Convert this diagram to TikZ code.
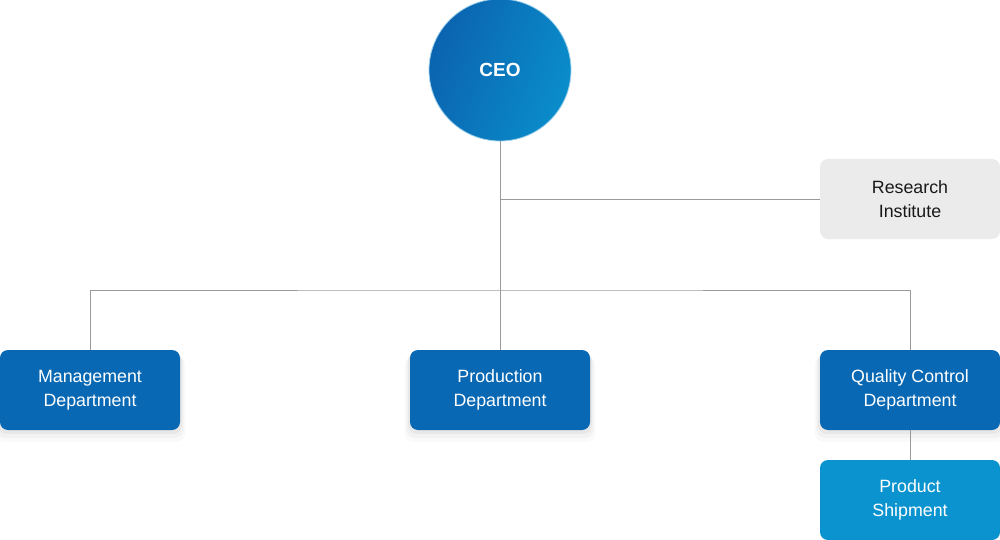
\documentclass[tikz,border=0pt]{standalone}
\usepackage{fontspec}
\setmainfont{Liberation Sans}
\usetikzlibrary{shadows,shadings}
\definecolor{deptblue}{HTML}{0868B3}
\definecolor{shipblue}{HTML}{0A93CE}
\definecolor{resgray}{HTML}{EBEBEB}
\definecolor{linegray}{HTML}{9A9A9A}
\definecolor{ceoA}{HTML}{0B63B0}
\definecolor{ceoB}{HTML}{0A8DCB}
\tikzset{
  x=1pt,y=-1pt,
  boxbase/.style={rounded corners=8pt,minimum width=180pt,minimum height=80pt,inner sep=0pt,align=center,
    font=\fontsize{17.8}{24}\selectfont},
  softshadow/.style={
    general shadow={shadow xshift=0pt,shadow yshift=-3pt,shadow scale=1.02,opacity=0.04,fill=black},
    general shadow={shadow xshift=0pt,shadow yshift=-6pt,shadow scale=1.04,opacity=0.03,fill=black},
    general shadow={shadow xshift=0pt,shadow yshift=-9pt,shadow scale=1.06,opacity=0.02,fill=black}},
  deptbox/.style={boxbase,softshadow,fill=deptblue,text=white},
  shipbox/.style={boxbase,fill=shipblue,text=white},
  resbox/.style={boxbase,fill=resgray,text=black!90},
  conn/.style={draw=linegray,line width=0.9pt},
}
\begin{document}
\begin{tikzpicture}
\useasboundingbox (0,0) rectangle (1000,540);
\node[circle,minimum size=142pt,inner sep=0pt,left color=ceoA,right color=ceoB,shading angle=70,
  draw=ceoB!40!white,line width=0.8pt,text=white,font=\fontsize{19}{22}\selectfont\bfseries] (ceo) at (500,70) {CEO};
\node[resbox] (res) at (910,199) {Research\\Institute};
\node[deptbox] (mgmt) at (90,390) {Management\\Department};
\node[deptbox] (prod) at (500,390) {Production\\Department};
\node[deptbox] (qc) at (910,390) {Quality Control\\Department};
\node[shipbox] (ship) at (910,500) {Product\\Shipment};
\coordinate (hub) at (500,290);
\coordinate (rj) at (500,199);
\draw[conn] (ceo.south) -- (hub);
\draw[conn] (rj) -- (res.west);
\draw[conn] (mgmt.north) |- (hub) -| (qc.north);
\draw[conn] (hub) -- (prod.north);
\draw[conn] (qc.south) -- (ship.north);
\end{tikzpicture}
\end{document}
